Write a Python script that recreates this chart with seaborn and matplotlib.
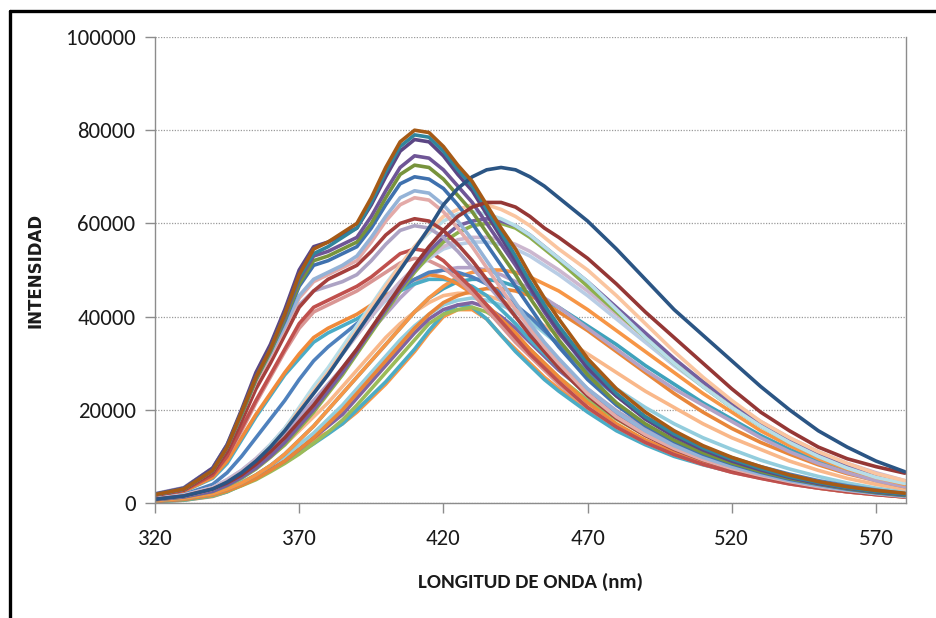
import matplotlib
matplotlib.use("Agg")
import matplotlib.pyplot as plt
from matplotlib import font_manager
from matplotlib.lines import Line2D
import seaborn as sns
import pandas as pd

# Emission wavelengths (nm) at which each spectrum was read
wavelength = [320, 330, 340, 345, 350, 355, 360, 365, 370, 375,
              380, 385, 390, 395, 400, 405, 410, 415, 420, 425,
              430, 435, 440, 445, 450, 455, 460, 470, 480, 490,
              500, 510, 520, 530, 540, 550, 560, 570, 580]

# Intensities in thousands of counts, one list per sample
b_orange_low = [0.3, 0.6, 1.4, 2.4, 4.0, 6.0, 8.0, 10.0, 11.5, 13.5,
                15.2, 17.0, 19.5, 22.5, 25.5, 29.0, 32.5, 36.5, 40.0, 41.5,
                41.5, 39.5, 36.0, 33.0, 30.0, 27.0, 24.5, 20.0, 16.5, 13.5,
                11.0, 9.0, 7.5, 6.0, 4.8, 3.8, 2.8, 2.0, 1.4]
b_aqua_low = [0.3, 0.6, 1.5, 2.4, 3.8, 5.3, 7.0, 8.7, 10.7, 12.7,
              14.8, 17.0, 20.0, 23.0, 26.0, 29.5, 33.0, 37.0, 40.5, 42.5,
              42.0, 39.5, 36.0, 32.5, 29.5, 26.5, 24.0, 19.5, 15.5, 12.5,
              10.0, 8.2, 6.7, 5.4, 4.3, 3.4, 2.6, 1.9, 1.3]
b_green_low = [0.4, 0.7, 1.6, 2.5, 3.7, 5.0, 6.7, 8.5, 10.5, 12.8,
               15.2, 17.8, 21.0, 24.5, 28.0, 31.5, 35.0, 38.5, 40.5, 41.5,
               42.0, 41.0, 39.0, 36.0, 33.0, 30.0, 27.0, 22.0, 18.0, 14.5,
               11.8, 9.6, 7.8, 6.3, 5.0, 3.9, 3.0, 2.2, 1.6]
b_purple_low = [0.4, 0.8, 1.8, 2.8, 4.0, 5.5, 7.2, 9.0, 11.5, 14.0,
                16.5, 19.0, 22.5, 26.0, 29.5, 33.0, 36.5, 39.5, 41.5, 42.5,
                43.0, 42.0, 40.0, 37.5, 34.5, 31.5, 28.5, 23.5, 19.0, 15.5,
                12.5, 10.3, 8.4, 6.8, 5.4, 4.2, 3.2, 2.4, 1.7]
b_cyan_low = [0.5, 1.0, 2.0, 3.0, 4.5, 6.0, 8.0, 10.0, 12.5, 15.0,
              18.0, 21.0, 24.5, 28.0, 31.5, 35.0, 38.0, 40.5, 42.5, 43.5,
              44.0, 43.5, 42.5, 41.0, 39.0, 36.5, 34.0, 29.0, 24.5, 20.5,
              17.0, 14.0, 11.5, 9.2, 7.3, 5.7, 4.3, 3.2, 2.4]
b_peach_low = [0.6, 1.2, 2.5, 3.8, 5.5, 7.5, 10.0, 12.5, 15.5, 18.5,
               21.5, 25.0, 28.5, 32.0, 35.5, 38.5, 41.0, 43.0, 44.5, 45.0,
               45.0, 44.5, 43.5, 42.0, 40.0, 38.0, 36.0, 32.0, 28.0, 24.0,
               20.5, 17.0, 14.0, 11.5, 9.0, 7.0, 5.3, 4.0, 3.0]
b_orange_mid2 = [0.4, 0.8, 1.7, 2.6, 3.8, 5.2, 7.0, 9.0, 11.5, 14.0,
                 17.0, 20.0, 23.5, 27.0, 30.5, 34.0, 37.5, 40.5, 43.0, 44.5,
                 45.5, 46.0, 46.0, 45.5, 44.5, 43.0, 41.0, 37.0, 32.5, 28.0,
                 23.5, 19.5, 16.0, 13.0, 10.5, 8.2, 6.3, 4.8, 3.5]
b_aqua_mid = [0.5, 1.0, 2.0, 3.0, 4.3, 6.0, 8.0, 10.5, 13.5, 16.5,
              20.0, 23.5, 27.0, 30.5, 34.0, 37.5, 41.0, 44.0, 46.0, 47.5,
              48.0, 48.0, 47.5, 46.5, 45.0, 43.5, 42.0, 38.0, 34.0, 29.5,
              25.5, 21.5, 18.0, 14.5, 11.5, 9.0, 7.0, 5.2, 3.8]
b_lavender_mid = [0.8, 1.5, 3.0, 4.5, 6.5, 9.0, 12.0, 15.0, 18.5, 22.0,
                  25.5, 29.0, 33.0, 37.0, 40.5, 44.0, 47.0, 49.0, 50.0, 50.5,
                  50.5, 50.0, 49.0, 47.5, 46.0, 44.0, 42.0, 37.5, 33.0, 28.5,
                  24.5, 21.0, 17.5, 14.0, 11.0, 8.5, 6.5, 4.8, 3.5]
b_orange_mid = [0.5, 1.0, 2.0, 3.0, 4.3, 6.0, 8.0, 10.5, 13.5, 16.5,
                20.0, 23.5, 27.0, 30.5, 34.0, 37.5, 41.0, 44.0, 46.5, 48.5,
                49.5, 50.0, 50.0, 49.5, 48.5, 47.0, 45.5, 41.5, 37.0, 32.5,
                28.0, 23.5, 19.5, 15.5, 12.3, 9.5, 7.3, 5.5, 4.0]
b_bluegray = [0.9, 1.7, 3.3, 5.0, 7.0, 9.5, 12.5, 16.0, 20.0, 24.0,
              28.0, 32.0, 36.0, 40.0, 43.5, 47.0, 50.0, 52.5, 54.5, 55.5,
              56.0, 56.0, 55.5, 54.5, 53.0, 51.0, 49.0, 44.5, 39.5, 34.5,
              29.5, 25.0, 20.5, 16.5, 13.0, 10.0, 7.7, 5.8, 4.3]
b_lilac = [0.9, 1.7, 3.3, 5.0, 7.0, 9.5, 12.5, 16.0, 20.0, 24.0,
           28.0, 32.0, 36.0, 40.0, 44.0, 47.5, 50.5, 53.0, 55.0, 56.5,
           57.0, 57.0, 56.5, 55.5, 54.0, 52.0, 50.0, 45.5, 40.5, 35.5,
           30.5, 26.0, 21.5, 17.5, 14.0, 11.0, 8.5, 6.5, 4.8]
b_green = [0.7, 1.3, 2.5, 3.7, 5.3, 7.3, 9.8, 12.5, 16.0, 19.5,
           23.5, 27.5, 32.0, 36.5, 41.0, 45.5, 49.5, 53.0, 56.0, 58.0,
           59.5, 60.0, 60.0, 59.0, 57.0, 54.5, 52.0, 46.5, 41.0, 35.5,
           30.0, 25.0, 20.5, 16.5, 13.0, 10.0, 7.7, 5.8, 4.3]
b_purple = [0.7, 1.3, 2.5, 3.8, 5.5, 7.5, 10.0, 13.0, 16.5, 20.0,
            24.0, 28.0, 32.5, 37.0, 41.5, 46.0, 50.0, 54.0, 57.0, 59.5,
            60.5, 61.0, 60.5, 59.5, 57.5, 55.0, 52.5, 47.5, 42.0, 36.5,
            31.0, 26.0, 21.5, 17.0, 13.5, 10.5, 8.0, 6.0, 4.5]
b_cyan = [0.8, 1.5, 3.0, 4.5, 6.5, 9.0, 12.5, 16.0, 20.5, 25.0,
          29.0, 33.5, 38.0, 42.5, 47.0, 51.0, 55.0, 58.0, 60.5, 62.0,
          62.5, 62.0, 61.0, 59.5, 57.5, 55.0, 52.5, 47.5, 41.5, 35.5,
          30.0, 25.0, 20.5, 16.5, 13.0, 10.0, 7.5, 5.5, 4.2]
b_peach = [0.8, 1.5, 3.0, 4.5, 6.5, 9.0, 12.0, 15.5, 20.0, 24.0,
           28.0, 32.5, 37.0, 42.0, 46.5, 51.0, 55.0, 58.5, 61.5, 63.0,
           64.0, 64.0, 63.0, 61.5, 59.5, 57.0, 54.5, 50.0, 44.5, 38.5,
           32.5, 27.0, 22.0, 17.5, 14.0, 11.0, 8.5, 6.3, 4.8]

a_aqua = [1.5, 2.5, 5.3, 8.5, 13.5, 18.5, 23.0, 27.5, 31.0, 34.5,
          36.5, 38.0, 39.5, 41.5, 43.5, 45.5, 47.0, 48.0, 48.0, 47.5,
          46.5, 44.5, 41.5, 38.5, 35.0, 32.0, 29.0, 23.0, 18.3, 14.6,
          11.6, 9.2, 7.3, 5.8, 4.5, 3.5, 2.6, 1.9, 1.4]
a_orange = [1.5, 2.5, 5.5, 9.0, 14.0, 19.0, 23.5, 28.0, 32.0, 35.5,
            37.5, 39.0, 40.5, 42.5, 44.5, 46.5, 48.0, 49.0, 48.5, 47.0,
            45.0, 42.5, 39.5, 36.5, 33.0, 30.0, 27.0, 21.5, 17.0, 13.5,
            10.7, 8.5, 6.8, 5.4, 4.2, 3.2, 2.4, 1.8, 1.3]
a_blue2 = [1.0, 1.8, 4.0, 6.5, 10.0, 14.0, 18.0, 22.0, 26.5, 30.5,
           33.5, 36.0, 38.5, 41.0, 43.5, 46.0, 48.0, 49.5, 50.0, 49.5,
           48.5, 47.0, 45.0, 42.5, 40.0, 37.0, 34.0, 28.0, 23.0, 18.5,
           15.0, 12.0, 9.7, 7.8, 6.2, 4.8, 3.7, 2.8, 2.0]
a_pink = [1.7, 2.8, 6.2, 10.0, 15.5, 21.5, 27.0, 32.5, 37.5, 41.0,
          42.5, 44.0, 45.5, 47.5, 49.5, 51.5, 52.5, 52.0, 50.5, 48.0,
          45.0, 41.5, 38.0, 34.5, 31.5, 28.5, 25.5, 20.5, 16.3, 13.0,
          10.4, 8.3, 6.6, 5.3, 4.1, 3.2, 2.4, 1.8, 1.3]
a_red = [1.6, 2.7, 6.0, 10.0, 16.0, 22.0, 27.5, 33.0, 38.5, 42.0,
         43.5, 45.0, 46.5, 48.5, 51.0, 53.5, 54.5, 54.0, 52.0, 49.0,
         46.0, 42.5, 39.0, 35.5, 32.0, 29.0, 26.0, 20.5, 16.3, 13.0,
         10.4, 8.3, 6.6, 5.3, 4.1, 3.2, 2.4, 1.8, 1.3]
a_lavender = [2.0, 3.3, 7.5, 12.5, 19.0, 25.5, 31.0, 37.0, 42.5, 45.5,
              46.5, 47.5, 49.0, 52.0, 55.5, 58.5, 59.5, 59.0, 57.0, 54.0,
              50.5, 47.0, 43.5, 40.0, 36.5, 33.0, 30.0, 24.5, 19.8, 16.0,
              12.8, 10.2, 8.1, 6.4, 5.0, 3.9, 3.0, 2.2, 1.6]
a_darkred = [1.7, 2.8, 6.5, 11.0, 17.5, 24.5, 30.0, 36.0, 42.0, 45.5,
             48.0, 49.5, 51.0, 54.0, 57.5, 60.0, 61.0, 60.5, 58.5, 55.5,
             52.0, 48.0, 44.0, 40.0, 36.0, 32.5, 29.0, 23.0, 18.2, 14.5,
             11.5, 9.2, 7.3, 5.8, 4.5, 3.5, 2.6, 1.9, 1.4]
a_salmon = [1.8, 3.0, 7.0, 12.0, 19.0, 26.0, 31.5, 37.5, 44.0, 47.5,
            49.0, 50.5, 52.0, 56.0, 60.5, 64.0, 65.5, 65.0, 62.5, 59.0,
            55.0, 50.5, 46.0, 41.5, 37.5, 33.5, 30.0, 23.5, 18.5, 14.7,
            11.7, 9.3, 7.4, 5.9, 4.6, 3.5, 2.7, 2.0, 1.4]
a_lightblue = [1.9, 3.2, 7.5, 12.5, 19.5, 26.5, 32.0, 38.0, 44.5, 48.0,
               49.5, 51.0, 53.0, 57.0, 61.5, 65.5, 67.0, 66.5, 64.0, 60.5,
               56.5, 52.0, 47.5, 43.0, 38.5, 34.5, 31.0, 24.5, 19.5, 15.5,
               12.3, 9.8, 7.8, 6.2, 4.8, 3.7, 2.8, 2.1, 1.5]
a_blue = [1.8, 3.0, 7.0, 12.0, 19.0, 26.5, 32.5, 39.0, 46.5, 51.0,
          52.0, 53.5, 55.0, 59.0, 64.0, 68.5, 70.0, 69.5, 67.5, 64.0,
          60.0, 55.5, 51.0, 46.5, 42.0, 37.5, 33.5, 26.5, 21.0, 16.6,
          13.2, 10.5, 8.4, 6.6, 5.1, 4.0, 3.0, 2.2, 1.6]
a_green = [1.8, 3.0, 7.0, 12.0, 19.0, 26.5, 32.5, 39.5, 47.0, 52.0,
           53.0, 54.5, 56.0, 60.0, 65.5, 70.5, 72.5, 72.0, 69.5, 66.0,
           62.5, 58.0, 53.5, 49.0, 44.0, 39.5, 35.0, 27.5, 21.5, 17.0,
           13.5, 10.8, 8.6, 6.8, 5.3, 4.1, 3.1, 2.3, 1.7]
a_purple = [1.8, 3.0, 7.0, 12.0, 19.5, 27.0, 33.0, 40.0, 48.0, 53.0,
            54.0, 55.5, 57.0, 61.5, 67.0, 72.0, 74.5, 74.0, 71.5, 68.0,
            64.5, 60.0, 55.5, 51.0, 46.0, 41.0, 36.5, 29.0, 23.0, 18.2,
            14.5, 11.6, 9.2, 7.3, 5.6, 4.3, 3.3, 2.5, 1.9]
a_indigo = [1.9, 3.2, 7.5, 12.5, 20.0, 28.0, 34.0, 41.5, 50.0, 55.0,
            56.0, 57.5, 59.0, 64.0, 70.0, 75.5, 78.0, 77.5, 74.5, 70.5,
            67.0, 62.0, 57.0, 52.0, 46.5, 41.5, 37.0, 29.0, 23.0, 18.0,
            14.3, 11.4, 9.0, 7.1, 5.5, 4.2, 3.2, 2.4, 1.8]
a_teal = [1.8, 3.0, 7.0, 12.0, 19.5, 27.0, 33.0, 40.5, 48.5, 53.5,
          55.0, 57.0, 59.0, 64.5, 71.0, 76.5, 79.0, 78.5, 75.5, 71.5,
          68.0, 63.0, 58.0, 53.0, 47.5, 42.5, 38.0, 30.0, 23.5, 18.5,
          14.8, 11.8, 9.4, 7.4, 5.7, 4.4, 3.3, 2.5, 1.9]

b_darkred = [0.8, 1.5, 3.0, 4.3, 6.0, 8.3, 11.0, 14.0, 17.5, 21.0,
             25.0, 29.0, 33.0, 37.5, 42.0, 46.5, 51.0, 55.0, 58.5, 61.5,
             63.5, 64.5, 64.5, 63.5, 61.5, 59.0, 57.0, 52.5, 47.0, 41.0,
             35.5, 30.0, 24.5, 19.5, 15.5, 12.0, 9.5, 7.8, 6.4]
b_darkblue = [0.8, 1.5, 3.0, 4.5, 6.5, 9.0, 12.0, 15.5, 19.5, 23.5,
              27.5, 32.0, 36.5, 41.0, 45.5, 50.0, 54.5, 59.0, 64.0, 67.5,
              70.0, 71.5, 72.0, 71.5, 70.0, 68.0, 65.5, 60.5, 54.5, 48.0,
              41.5, 36.0, 30.5, 25.0, 20.0, 15.5, 12.0, 9.0, 6.7]
a_brown = [1.8, 3.0, 7.0, 12.0, 19.5, 27.0, 33.0, 40.5, 49.0, 54.5,
           56.0, 58.0, 60.0, 65.5, 72.0, 77.5, 80.0, 79.5, 76.5, 72.5,
           69.0, 64.0, 59.0, 54.5, 49.0, 44.0, 39.5, 31.0, 24.5, 19.5,
           15.5, 12.3, 9.8, 7.8, 6.0, 4.6, 3.5, 2.7, 2.1]

# Series in drawing order (later ones sit on top) with their line colours
series = [
    ("b_orange_low", b_orange_low, "#F79646"),
    ("b_aqua_low", b_aqua_low, "#4BACC6"),
    ("b_green_low", b_green_low, "#9BBB59"),
    ("b_purple_low", b_purple_low, "#8064A2"),
    ("b_cyan_low", b_cyan_low, "#93CDDD"),
    ("b_peach_low", b_peach_low, "#F9B88A"),
    ("b_orange_mid2", b_orange_mid2, "#E8863A"),
    ("b_aqua_mid", b_aqua_mid, "#3FA2BC"),
    ("b_lavender_mid", b_lavender_mid, "#B3A2C7"),
    ("b_orange_mid", b_orange_mid, "#F79646"),
    ("a_aqua", a_aqua, "#4BACC6"),
    ("a_orange", a_orange, "#F08A3A"),
    ("a_blue2", a_blue2, "#4F81BD"),
    ("a_pink", a_pink, "#D99694"),
    ("a_red", a_red, "#C0504D"),
    ("b_bluegray", b_bluegray, "#B9CDE5"),
    ("b_lilac", b_lilac, "#CCB7CF"),
    ("b_green", b_green, "#8DB04C"),
    ("b_purple", b_purple, "#7460A0"),
    ("b_cyan", b_cyan, "#B7DEE8"),
    ("b_peach", b_peach, "#FAC5A0"),
    ("a_lavender", a_lavender, "#ADA3C4"),
    ("a_darkred", a_darkred, "#A5403D"),
    ("a_salmon", a_salmon, "#E3AAA8"),
    ("a_lightblue", a_lightblue, "#95B3D7"),
    ("a_blue", a_blue, "#3F71AE"),
    ("a_green", a_green, "#77933C"),
    ("a_purple", a_purple, "#6F5596"),
    ("a_indigo", a_indigo, "#5B4684"),
    ("a_teal", a_teal, "#31859C"),
    ("b_darkred", b_darkred, "#953735"),
    ("b_darkblue", b_darkblue, "#2B5584"),
    ("a_brown", a_brown, "#A65A16"),
]

rows = []
for name, values, _ in series:
    for w, v in zip(wavelength, values):
        rows.append({"wl": w, "intensidad": v * 1000.0, "muestra": name})
df = pd.DataFrame(rows)
palette = {name: color for name, _, color in series}
order = [name for name, _, _ in series]

sns.set_style("white")

# Pick a Calibri-like narrow face for tick labels and the x title
names = {f.name for f in font_manager.fontManager.ttflist}
label_family = "Liberation Sans"
label_size = 14.5
for cand, size in (("Carlito", 16.5), ("Liberation Sans Narrow", 16),
                   ("Barlow Semi Condensed", 15.5), ("Asap Condensed", 15.5),
                   ("Archivo Narrow", 16)):
    if cand in names:
        label_family, label_size = cand, size
        break
plt.rcParams["font.family"] = [label_family, "DejaVu Sans"]

fig = plt.figure(figsize=(9.36, 6.18), dpi=100)
ax = fig.add_axes([155 / 936, 1 - 503 / 618, (906 - 155) / 936, (503 - 37) / 618])

sns.lineplot(data=df, x="wl", y="intensidad", hue="muestra", hue_order=order,
             palette=palette, estimator=None, legend=False, linewidth=2.6,
             ax=ax)

ax.set_xlim(320, 580.4)
ax.set_ylim(0, 100000)
ax.set_xticks([320, 370, 420, 470, 520, 570])
ax.set_yticks([0, 20000, 40000, 60000, 80000, 100000])
ax.set_yticklabels(["0", "20000", "40000", "60000", "80000", "100000"])

ax.yaxis.grid(True, linestyle=(0, (1, 1.2)), color="#9A9A9A", linewidth=0.9)
ax.xaxis.grid(False)
ax.set_axisbelow(True)
for side in ("left", "bottom", "right"):
    ax.spines[side].set_visible(True)
    ax.spines[side].set_color("#8C8C8C")
    ax.spines[side].set_linewidth(1.0)
ax.spines["top"].set_visible(False)

ax.tick_params(axis="x", length=7, width=1, color="#8C8C8C", pad=12,
               labelsize=label_size, labelcolor="#1A1A1A", direction="out", bottom=True)
ax.tick_params(axis="y", length=7, width=1, color="#8C8C8C", pad=7,
               labelsize=label_size, labelcolor="#1A1A1A", direction="out", left=True)

ax.set_xlabel("LONGITUD DE ONDA (nm)", fontsize=15, fontweight="bold",
              color="#1A1A1A", labelpad=17)
ax.set_ylabel("")
fig.text(35 / 936, 1 - 270 / 618, "INTENSIDAD", rotation=90, ha="center",
         va="center", fontsize=12, fontweight="bold", color="#1A1A1A",
         family=["DejaVu Sans"])

# Outer frame lines along the top and left edges of the figure
fig.add_artist(Line2D([9.5 / 936, 1.0], [1 - 11 / 618, 1 - 11 / 618],
                      color="black", linewidth=2.4, transform=fig.transFigure))
fig.add_artist(Line2D([9.5 / 936, 9.5 / 936], [0.0, 1 - 11 / 618],
                      color="black", linewidth=2.4, transform=fig.transFigure))

fig.savefig("out.png", dpi=100)
